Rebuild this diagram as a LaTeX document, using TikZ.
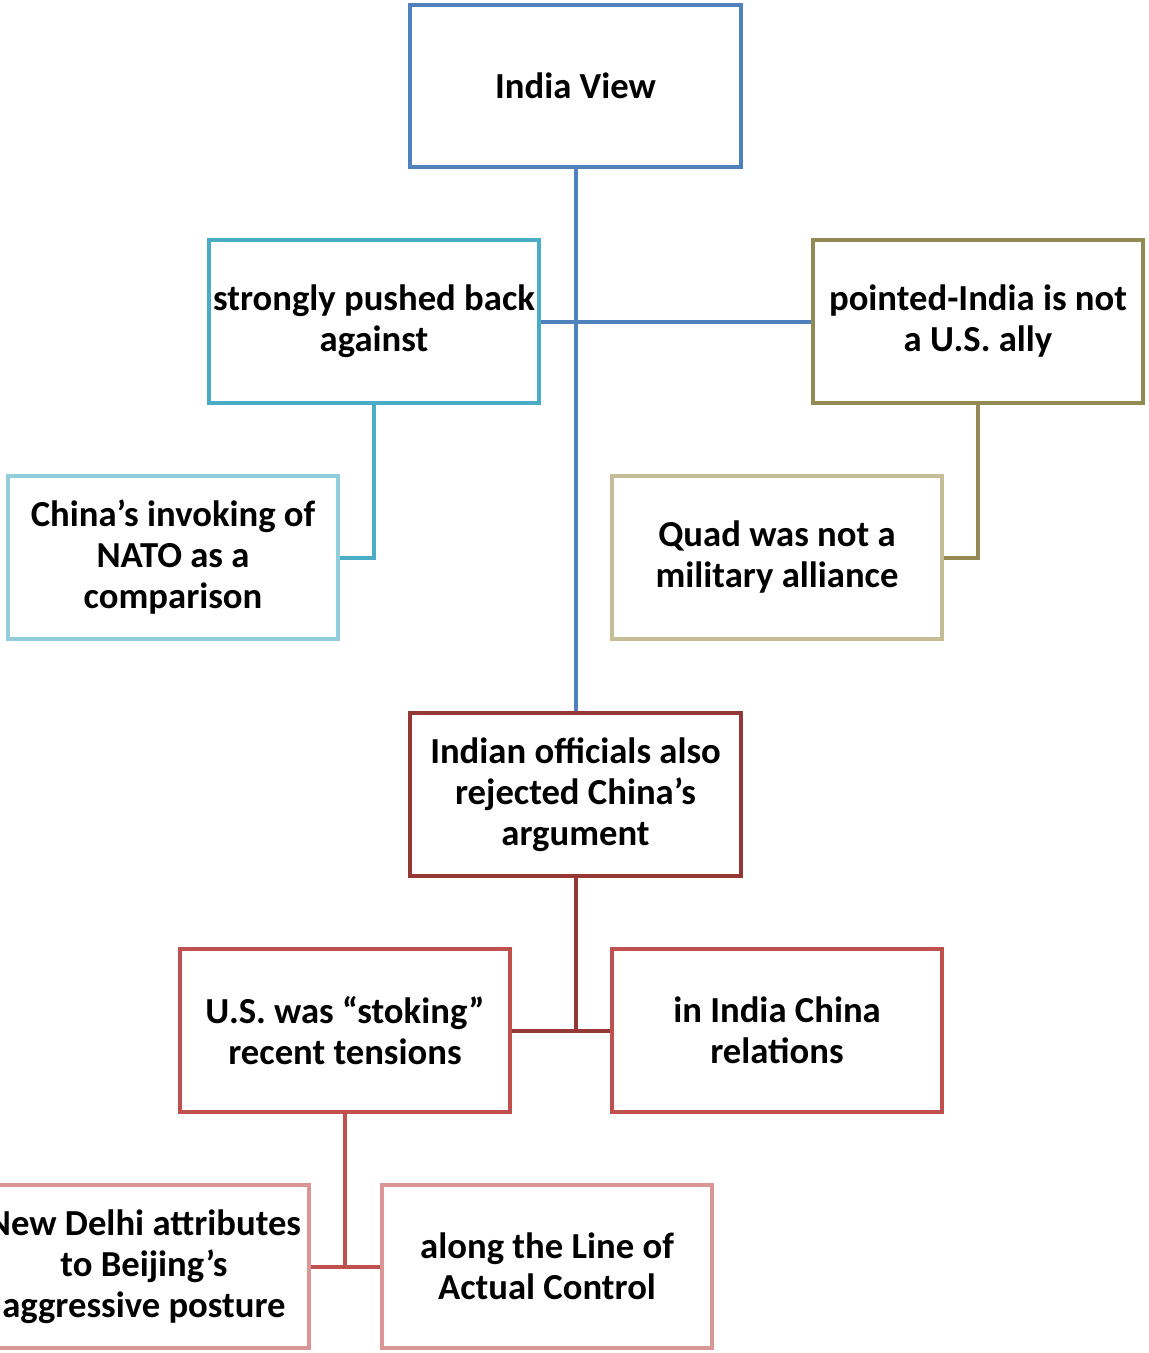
\documentclass[tikz,border=0pt]{standalone}
\usepackage{fontspec}
\setmainfont{Carlito}
\usepackage{tikz}
\usetikzlibrary{calc, positioning}
\usepackage{xcolor}

\definecolor{cblue}{HTML}{4F81BD}
\definecolor{cteal}{HTML}{4BACC6}
\definecolor{colive}{HTML}{938953}
\definecolor{clblue}{HTML}{92CDDC}
\definecolor{clolive}{HTML}{C4BD97}
\definecolor{cdred}{HTML}{953735}
\definecolor{cred}{HTML}{C0504D}
\definecolor{cpink}{HTML}{D99694}

\begin{document}
\begin{tikzpicture}[x=0.75pt, y=-0.75pt,
    font=\fontsize{27.5}{30.75}\selectfont\bfseries,
    blk/.style={draw=#1, fill=white, line width=3pt, minimum width=248pt, minimum height=122pt,
      inner sep=0pt, align=center},
    lnk/.style={draw=#1, line width=3pt}]
    \useasboundingbox (0,0) rectangle (1149,1353);

    \node[blk=cblue]   (view)   at (575.5, 86)    {India View};
    \node[blk=cteal]   (push)   at (374, 321.5)   {strongly pushed back\\against};
    \node[blk=colive]  (ally)   at (978, 321.5)   {pointed-India is not\\a U.S. ally};
    \node[blk=clblue]  (nato)   at (173, 557.5)   {China’s invoking of\\NATO as a\\comparison};
    \node[blk=clolive] (quad)   at (777, 557.5)   {Quad was not a\\military alliance};
    \node[blk=cdred]   (reject) at (575.5, 794.5) {Indian officials also\\rejected China’s\\argument};
    \node[blk=cred]    (stoke)  at (345, 1030.5)  {U.S. was “stoking”\\recent tensions};
    \node[blk=cred]    (rel)    at (777, 1030.5)  {in India China\\relations};
    \node[blk=cpink]   (delhi)  at (144, 1266.5)  {New Delhi attributes\\to Beijing’s\\aggressive posture};
    \node[blk=cpink]   (lac)    at (547, 1266.5)  {along the Line of\\Actual Control};

    \draw[lnk=cblue] (view) -- (reject);
    \draw[lnk=cblue] (push) -- (ally);
    \draw[lnk=cteal] (push.south) |- (nato.east);
    \draw[lnk=colive] (ally.south) |- (quad.east);
    \draw[lnk=cdred] (reject.south) -- (reject.south |- stoke.east);
    \draw[lnk=cdred] (stoke) -- (rel);
    \draw[lnk=cred] (stoke.south) |- (delhi.east);
    \draw[lnk=cred] (delhi) -- (lac);
  \end{tikzpicture}
\end{document}
